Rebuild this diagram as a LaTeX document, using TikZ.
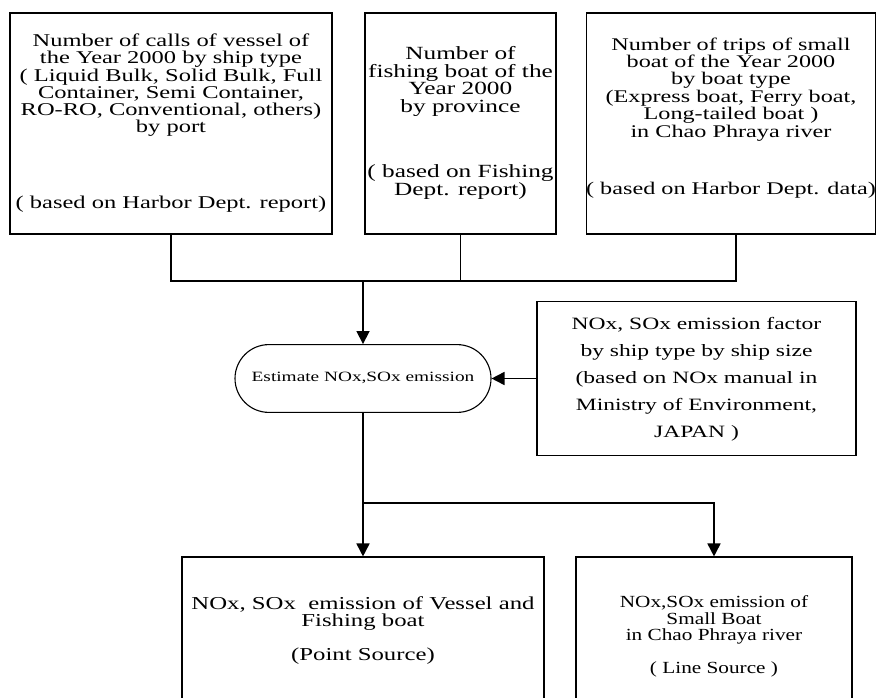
\documentclass[tikz,border=0pt]{standalone}
\usepackage{fontspec}
\setmainfont{Liberation Serif}
\usetikzlibrary{arrows.meta}

% centred block of lines, set slightly wide
\newcommand\boxlines[2][1.36]{\scalebox{#1}[1]{\begin{tabular}{@{}c@{}}#2\end{tabular}}}

\begin{document}
\begin{tikzpicture}[x=1pt,y=-1pt,
  box/.style={draw, line width=1.1pt, inner sep=0pt},
  terminal/.style={box, rounded corners=33.9pt},
  link/.style={line width=1.7pt},
  arr/.style={link, -{Triangle[length=13pt,width=13pt]}},
]
\useasboundingbox (0,0) rectangle (876,698);

% input data
\node[box, minimum width=322pt, minimum height=221pt,
      font=\fontsize{18}{16.2}\selectfont] (calls) at (171,123.5)
  {\boxlines{Number of calls of vessel of\\the Year 2000 by ship type\\( Liquid Bulk, Solid Bulk, Full\\Container, Semi Container,\\RO-RO, Conventional, others)\\by port\\[58pt]( based on Harbor Dept. report)}};

\node[box, minimum width=191pt, minimum height=221pt,
      font=\fontsize{18.6}{16.7}\selectfont] (fish) at (460.5,123.5)
  {\boxlines{Number of\\fishing boat of the\\Year 2000\\by province\\[47pt]( based on Fishing\\Dept. report)}};

\node[box, minimum width=286pt, minimum height=221pt,
      font=\fontsize{17.8}{16.7}\selectfont] (trips) at (731,123.5)
  {\boxlines{Number of trips of small\\boat of the Year 2000\\by boat type\\(Express boat, Ferry boat,\\Long-tailed boat )\\in Chao Phraya river\\[40pt]( based on Harbor Dept. data)\\[10pt]}};

% estimation step and its factor input
\node[terminal, minimum width=256pt, minimum height=67.8pt,
      font=\fontsize{14.2}{16}\selectfont] (est) at (363,378.5)
  {\boxlines{Estimate NOx,SOx emission}};

\node[box, minimum width=319pt, minimum height=154pt,
      font=\fontsize{17.3}{27}\selectfont] (factor) at (696.5,378.5)
  {\boxlines{NOx, SOx emission factor\\by ship type by ship size\\(based on NOx manual in\\Ministry of Environment,\\JAPAN )}};

% results
\node[box, minimum width=362pt, minimum height=148pt,
      font=\fontsize{18.2}{17}\selectfont] (pointsrc) at (363,631)
  {\boxlines{NOx, SOx \ emission of Vessel and\\Fishing boat\\[16pt](Point Source)}};

\node[box, minimum width=276pt, minimum height=160pt,
      font=\fontsize{17}{15}\selectfont] (linesrc) at (714,637)
  {\boxlines[1.25]{NOx,SOx emission of\\Small Boat\\in Chao Phraya river\\[17pt]( Line Source )}};

% connectors
\coordinate (j1) at (363,281);
\coordinate (j2) at (363,503);
\draw[link] (calls.south) |- (j1) -| ([xshift=5pt]trips.south);
\draw[link] (fish.south) -- (fish.south |- j1);
\draw[arr] (j1) -- (est.north);
\draw[arr] (factor.west) -- (est.east);
\draw[link] (est.south) -- (j2);
\draw[arr] (j2) -- (pointsrc.north);
\draw[arr] (j2) -| (linesrc.north);
\end{tikzpicture}
\end{document}
